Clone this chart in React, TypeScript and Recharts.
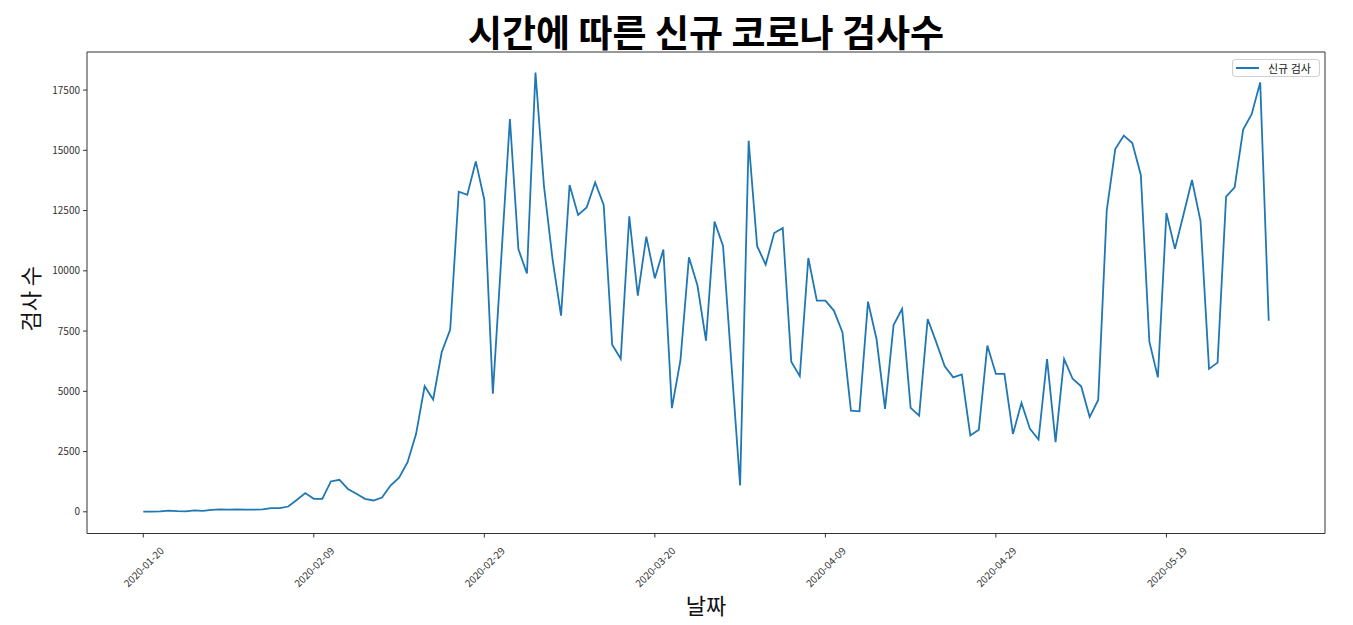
import { LineChart, Line, XAxis, YAxis, Legend, Label, ReferenceLine } from 'recharts';

const FONT = '"Noto Sans CJK KR", "Noto Sans", sans-serif';
const LINE_COLOR = '#1f77b4';
const AXIS_COLOR = '#333';

// new tests per day, first value is 2020-01-20
const NEW_TESTS = [
  10, 10, 20, 50, 30, 20, 60, 40, 80, 100,
  90, 100, 90, 90, 100, 150, 150, 220, 490, 780,
  540, 540, 1260, 1330, 950, 750, 540, 470, 590, 1090,
  1420, 2060, 3235, 5210, 4660, 6620, 7560, 13280, 13150, 14540,
  12950, 4900, 10600, 16300, 10890, 9890, 18230, 13500, 10490, 8140,
  13560, 12320, 12630, 13670, 12730, 6930, 6350, 12260, 8970, 11420,
  9690, 10880, 4300, 6280, 10560, 9390, 7100, 12040, 11030, 6050,
  1090, 15400, 11020, 10260, 11570, 11780, 6230, 5630, 10530, 8760,
  8760, 8350, 7450, 4200, 4170, 8720, 7170, 4270, 7750, 8420,
  4310, 3990, 8000, 7040, 6040, 5580, 5700, 3170, 3410, 6900,
  5720, 5720, 3230, 4520, 3440, 3000, 6340, 2890, 6340, 5520,
  5210, 3930, 4640, 12500, 15050, 15610, 15300, 13980, 7060, 5580,
  12400, 10910, 12330, 13770, 12060, 5930, 6190, 13080, 13460, 15860,
  16500, 17820, 7930,
];

const X_TICK_DAYS = [0, 20, 40, 60, 80, 100, 120];
const X_TICK_LABELS = [
  '2020-01-20', '2020-02-09', '2020-02-29', '2020-03-20',
  '2020-04-09', '2020-04-29', '2020-05-19',
];
const Y_TICKS = [0, 2500, 5000, 7500, 10000, 12500, 15000, 17500];

const data = NEW_TESTS.map((tests, day) => ({ day, tests }));

const X_DOMAIN = [-6.6, 138.6];
const Y_DOMAIN = [-900, 19080];

function DateTick({ x, y, payload }: any) {
  const label = X_TICK_LABELS[X_TICK_DAYS.indexOf(payload.value)];
  const cy = y + 27;
  return (
    <text
      x={x}
      y={cy}
      textAnchor="middle"
      dominantBaseline="central"
      transform={`rotate(-45 ${x} ${cy})`}
      fontSize={10}
      fill={AXIS_COLOR}
      fontFamily={FONT}
    >
      {label}
    </text>
  );
}

function LegendBox() {
  return (
    <div
      style={{
        width: 88,
        height: 18,
        boxSizing: 'border-box',
        display: 'flex',
        alignItems: 'center',
        border: '1px solid #d0d0d0',
        borderRadius: 3,
        background: 'rgba(255,255,255,0.8)',
        paddingLeft: 3,
        fontFamily: FONT,
        fontSize: 11,
        color: '#222',
        whiteSpace: 'nowrap',
      }}
    >
      <svg width={23} height={4} style={{ display: 'block' }}>
        <line x1={0} y1={2} x2={23} y2={2} stroke={LINE_COLOR} strokeWidth={2} />
      </svg>
      <span style={{ marginLeft: 9 }}>신규 검사</span>
    </div>
  );
}

export default function App() {
  return (
    <div style={{ position: 'absolute', left: 0, top: 0, background: '#fff' }}>
      <LineChart
        width={1353}
        height={625}
        data={data}
        margin={{ top: 52, right: 28, bottom: 0, left: 0 }}
      >
        <XAxis
          dataKey="day"
          type="number"
          domain={X_DOMAIN}
          ticks={X_TICK_DAYS}
          tick={<DateTick />}
          tickSize={4}
          height={91.5}
          interval={0}
          stroke={AXIS_COLOR}
          allowDataOverflow
        >
          <Label
            content={({ viewBox }: any) => (
              <text
                x={viewBox.x + viewBox.width / 2}
                y={604}
                textAnchor="middle"
                dominantBaseline="central"
                fontSize={22}
                fontFamily={FONT}
                fill="#111"
              >
                날짜
              </text>
            )}
          />
        </XAxis>
        <YAxis
          type="number"
          domain={Y_DOMAIN}
          ticks={Y_TICKS}
          width={87}
          tickSize={4}
          tickMargin={3}
          interval={0}
          stroke={AXIS_COLOR}
          tick={{ fontSize: 10, fill: AXIS_COLOR, fontFamily: FONT }}
          allowDataOverflow
        >
          <Label
            content={({ viewBox }: any) => {
              const cx = 29;
              const cy = viewBox.y + viewBox.height / 2 + 6;
              return (
                <text
                  x={cx}
                  y={cy}
                  textAnchor="middle"
                  dominantBaseline="central"
                  transform={`rotate(-90 ${cx} ${cy})`}
                  fontSize={22}
                  fontFamily={FONT}
                  fill="#111"
                >
                  검사 수
                </text>
              );
            }}
          />
        </YAxis>
        {/* top and right spines, title hangs off the top one */}
        <ReferenceLine y={Y_DOMAIN[1]} stroke={AXIS_COLOR} strokeWidth={1}>
          <Label
            content={({ viewBox }: any) => (
              <text
                x={viewBox.x + viewBox.width / 2}
                y={viewBox.y - 5}
                textAnchor="middle"
                fontSize={37}
                fontWeight="bold"
                fontFamily={FONT}
                fill="#000"
              >
                시간에 따른 신규 코로나 검사수
              </text>
            )}
          />
        </ReferenceLine>
        <ReferenceLine x={X_DOMAIN[1]} stroke={AXIS_COLOR} strokeWidth={1} />
        <Legend
          layout="horizontal"
          align="center"
          verticalAlign="middle"
          content={<LegendBox />}
          wrapperStyle={{ left: 1232, top: 59, width: 'auto', height: 'auto' }}
        />
        <Line
          type="linear"
          dataKey="tests"
          name="신규 검사"
          stroke={LINE_COLOR}
          strokeWidth={1.8}
          dot={false}
          isAnimationActive={false}
        />
      </LineChart>
    </div>
  );
}
